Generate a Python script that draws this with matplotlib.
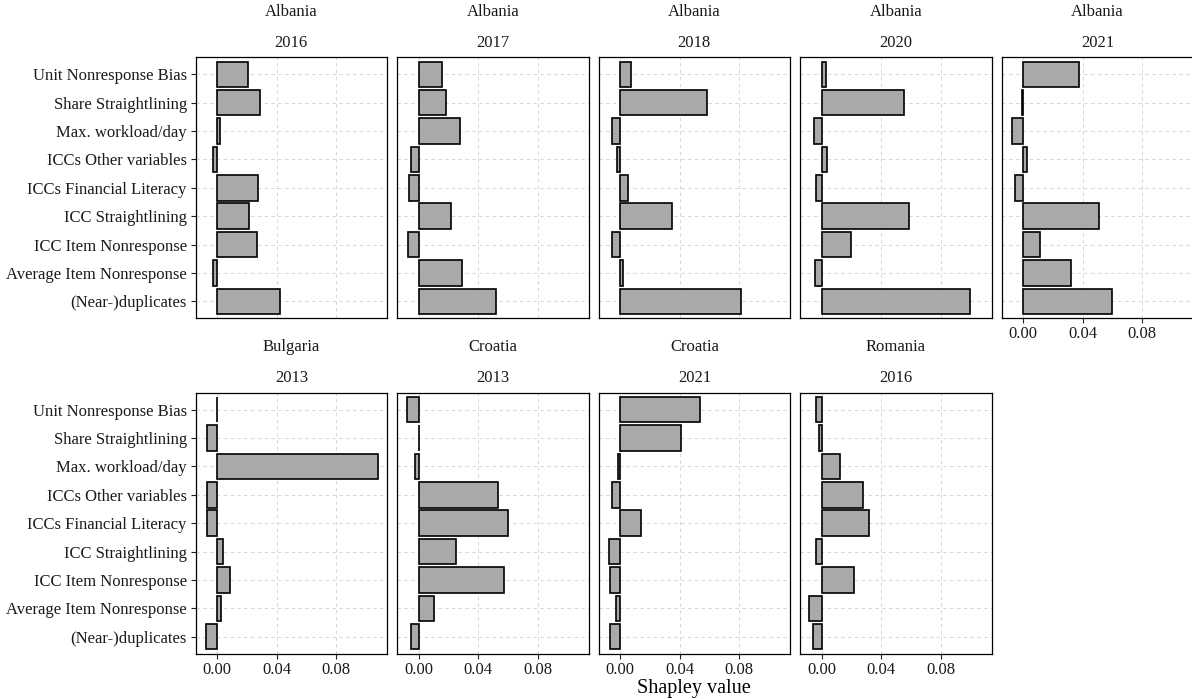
import numpy as np
import matplotlib
matplotlib.use("Agg")
import matplotlib.pyplot as plt

plt.rcParams['font.family'] = ['Liberation Serif', 'DejaVu Serif']

# ---- data -------------------------------------------------------------
features = ["Unit Nonresponse Bias", "Share Straightlining", "Max. workload/day",
            "ICCs Other variables", "ICCs Financial Literacy", "ICC Straightlining",
            "ICC Item Nonresponse", "Average Item Nonresponse", "(Near-)duplicates"]

countries = ["Albania", "Albania", "Albania", "Albania", "Albania",
             "Bulgaria", "Croatia", "Croatia", "Romania"]
years = ["2016", "2017", "2018", "2020", "2021", "2013", "2013", "2021", "2016"]

albania_2016 = [0.0205, 0.0288, 0.0020, -0.0030, 0.0277, 0.0214, 0.0266, -0.0025, 0.0424]
albania_2017 = [0.0159, 0.0183, 0.0279, -0.0054, -0.0067, 0.0221, -0.0071, 0.0295, 0.0518]
albania_2018 = [0.0071, 0.0581, -0.0051, -0.0022, 0.0056, 0.0346, -0.0054, 0.0022, 0.0815]
albania_2020 = [0.0031, 0.0552, -0.0054, 0.0038, -0.0036, 0.0590, 0.0197, -0.0042, 0.0996]
albania_2021 = [0.0373, -0.0007, -0.0074, 0.0025, -0.0054, 0.0512, 0.0114, 0.0322, 0.0599]
bulgaria_2013 = [0.0003, -0.0065, 0.1083, -0.0067, -0.0067, 0.0038, 0.0087, 0.0029, -0.0071]
croatia_2013 = [-0.0078, 0.0004, -0.0022, 0.0532, 0.0603, 0.0252, 0.0576, 0.0103, -0.0054]
croatia_2021 = [0.0538, 0.0407, -0.0013, -0.0056, 0.0138, -0.0071, -0.0065, -0.0029, -0.0065]
romania_2016 = [-0.0034, -0.0016, 0.0123, 0.0277, 0.0320, -0.0034, 0.0217, -0.0085, -0.0058]

panel_values = [albania_2016, albania_2017, albania_2018, albania_2020, albania_2021,
                bulgaria_2013, croatia_2013, croatia_2021, romania_2016]

x_ticks = [0.0, 0.04, 0.08]
x_tick_labels = ["0.00", "0.04", "0.08"]
x_title = "Shapley value"

# ---- layout -----------------------------------------------------------
W, H = 1192, 699
fig = plt.figure(figsize=(W / 100, H / 100), dpi=100)

left0, pitch, pw = 195.7, 201.5, 191.3
row_tops = [57.3, 392.7]
ph = 261.0

allv = np.concatenate([np.array(v) for v in panel_values])
lo, hi = allv.min(), allv.max()
pad = 0.05 * (hi - lo)
xlim = (lo - pad, hi + pad)

n = len(features)
ypos = np.arange(n)[::-1]  # first feature at top

txt_col = '#1a1a1a'
fs = 12.0

for i, vals in enumerate(panel_values):
    row, col = divmod(i, 5)
    x0 = left0 + col * pitch
    y_top = row_tops[row]
    ax = fig.add_axes([x0 / W, 1 - (y_top + ph) / H, pw / W, ph / H])
    ax.barh(ypos, vals, height=0.9, color='#a9a9a9', edgecolor='black',
            linewidth=1.2, zorder=3)
    ax.set_xlim(*xlim)
    ax.set_ylim(-0.6, n - 0.4)
    ax.set_xticks(x_ticks)
    ax.set_xticklabels(x_tick_labels)
    ax.set_yticks(ypos)
    ax.set_yticklabels(features)
    ax.set_axisbelow(True)
    ax.grid(True, linestyle=(0, (3.5, 3.5)), color='#d6d6d6', linewidth=0.7)
    for s in ax.spines.values():
        s.set_color('black')
        s.set_linewidth(0.9)

    show_y = (col == 0)
    show_x = (row == 1) or (i == 4)
    ax.tick_params(axis='y', left=show_y, labelleft=show_y, length=3.4, width=0.8,
                   pad=3, labelsize=fs, labelcolor=txt_col, color='#222222')
    ax.tick_params(axis='x', bottom=show_x, labelbottom=show_x, length=3.4, width=0.8,
                   pad=2.5, labelsize=fs, labelcolor=txt_col, color='#222222')

    ax.annotate(years[i], xy=(0.5, 1), xycoords='axes fraction',
                xytext=(0, 7.6), textcoords='offset points',
                ha='center', va='baseline', fontsize=fs, color=txt_col)
    ax.annotate(countries[i], xy=(0.5, 1), xycoords='axes fraction',
                xytext=(0, 29.9), textcoords='offset points',
                ha='center', va='baseline', fontsize=fs, color=txt_col)

fig.text((left0 + (4 * pitch + pw + left0)) / 2 / W, 1 - 693 / H, x_title,
         ha='center', va='baseline', fontsize=14.5, color='black')

fig.savefig("out.png", dpi=100)
